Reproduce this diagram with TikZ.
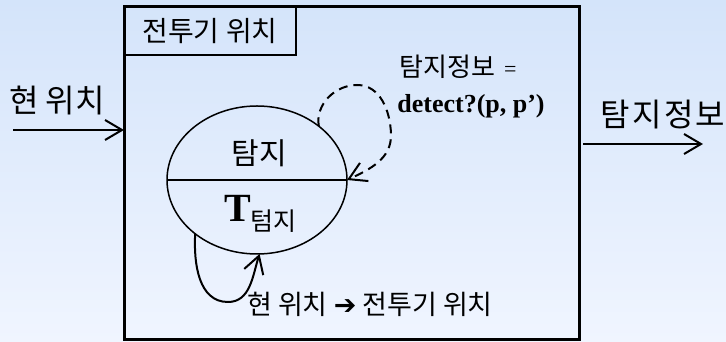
\documentclass[tikz,border=0pt]{standalone}
\usepackage{fontspec}
\newfontfamily\kr{Noto Sans CJK KR}
\newfontfamily\tnr{Liberation Serif}
\newfontfamily\dv{DejaVu Sans}
\usetikzlibrary{shapes.geometric,arrows.meta}

\definecolor{bgtop}{RGB}{212,228,250}
\definecolor{bgbot}{RGB}{240,245,255}

\begin{document}
\begin{tikzpicture}[x=1pt,y=1pt,
  krtext/.style={font=\kr\fontsize{27}{27}\selectfont, inner sep=0},
  biglabel/.style={font=\kr\fontsize{32}{32}\selectfont, inner sep=0},
  barb/.style={-{Straight Barb[length=17pt,width=20pt]}},
  flow/.style={line width=2pt, barb},
  frame/.style={draw, line width=3pt, inner sep=0, outer sep=0},
  statebox/.style={draw, ellipse, line width=1.5pt, inner sep=0, outer sep=0,
                   minimum width=180pt, minimum height=148pt},
  selfloop/.style={line width=2pt, dash pattern=on 9pt off 6pt, barb},
  trans/.style={line width=2pt, barb}]

% background
\shade[top color=bgtop, bottom color=bgbot] (0,0) rectangle (726,342);
\useasboundingbox (0,0) rectangle (726,342);

% component frame and its title tab
\node[frame, minimum width=455pt, minimum height=333pt] (main) at (351.5,168.5) {};
\node[frame, line width=2.5pt, minimum width=172pt, minimum height=48pt,
      anchor=north west, font=\kr\fontsize{28}{28}\selectfont] (title) at (main.north west) {전투기 위치};

% input
\node[biglabel] (inlabel) at (57,241.5) {현 위치};
\coordinate (insrc) at (13,212);
\draw[flow] (insrc) -- (insrc -| main.west);

% output
\node[biglabel] (outlabel) at (663,227) {\addfontfeatures{LetterSpace=7}탐지정보};
\coordinate (outstart) at (583,198);
\coordinate (outend) at (703,198);
\draw[flow] (outstart) -- (outend);

% state
\node[statebox] (state) at (257,162) {};
\draw[line width=1.5pt] (state.west) -- (state.east);
\node[inner sep=0, font=\kr\fontsize{30}{30}\selectfont] (sname) at (259.5,188.5) {탐지};
\node[inner sep=0, anchor=base west] (stime) at (224,120)
  {{\tnr\bfseries\fontsize{40}{40}\selectfont T}\raisebox{-9pt}{\kr\fontsize{25}{25}\selectfont 텀지}};

% self loop: detection output
\draw[selfloop] (state.41) to[out=100,in=180] (357,257)
  to[out=0,in=92] (391,208) to[out=-88,in=25] (state.east);
\node[inner sep=0] (dlabel1) at (458,275)
  {{\kr\fontsize{26}{26}\selectfont 탐지정보}\hspace{9pt}{\tnr\fontsize{22}{22}\selectfont =}};
\node[inner sep=0, anchor=base, font=\tnr\bfseries\fontsize{26}{26}\selectfont] (dlabel2) at (471,229)
  {detect?(p, p’)};

% internal transition: position update
\draw[trans] (state.221) to[out=-93,in=180] (228,40) to[out=0,in=-108] (state.272);
\node[krtext] (tlabel) at (370,38) {현 위치 {\dv\bfseries ➔} 전투기 위치};

\end{tikzpicture}
\end{document}
